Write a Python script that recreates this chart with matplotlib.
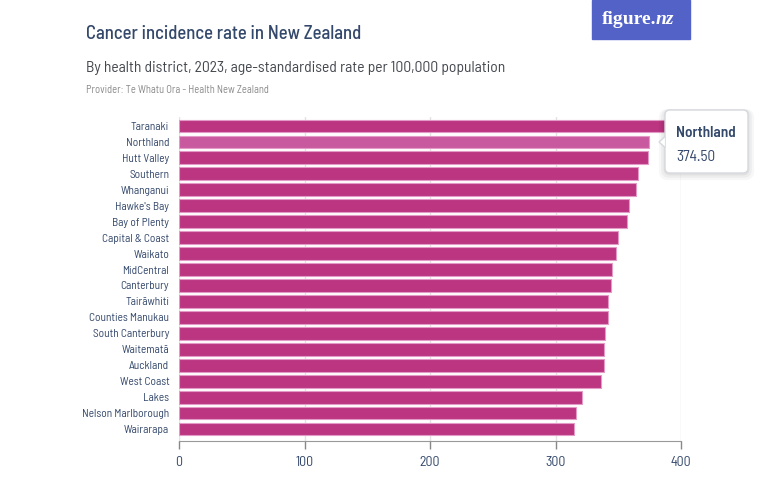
import matplotlib
matplotlib.use('Agg')
import matplotlib.pyplot as plt
from matplotlib.patches import FancyBboxPatch, Rectangle, Polygon

districts = ['Taranaki', 'Northland', 'Hutt Valley', 'Southern', 'Whanganui',
             "Hawke's Bay", 'Bay of Plenty', 'Capital & Coast', 'Waikato', 'MidCentral',
             'Canterbury', 'Tairāwhiti', 'Counties Manukau', 'South Canterbury', 'Waitematā',
             'Auckland', 'West Coast', 'Lakes', 'Nelson Marlborough', 'Wairarapa']
rates = [395.0, 374.5, 373.8, 365.5, 363.9, 358.8, 357.0, 350.0, 347.9, 344.7,
         343.9, 341.7, 341.8, 339.1, 339.0, 338.7, 335.9, 321.4, 316.1, 314.5]
highlight = 'Northland'
xticks = [0, 100, 200, 300, 400]

W, H = 781, 486
NAVY = '#34486b'
BAR = '#bb3581'
BAR_HI = '#c9599f'
EDGE = '#e39ac6'
FONT = ['Barlow Semi Condensed', 'Roboto', 'DejaVu Sans']

plt.rcParams['font.family'] = FONT

fig = plt.figure(figsize=(W / 100, H / 100), dpi=100)

# main axes, placed in pixels
left, right, top, bottom = 179, 681, 117, 441
ax = fig.add_axes([left / W, 1 - bottom / H, (right - left) / W, (bottom - top) / H])

ypos = list(range(len(districts)))
colors = [BAR_HI if d == highlight else BAR for d in districts]
ax.barh(ypos, rates, height=0.8, color=colors, edgecolor=EDGE, linewidth=0.8, zorder=3)

ax.set_xlim(0, 400)
ax.set_ylim(19.75, -0.56)
ax.set_yticks(ypos)
ax.set_yticklabels(districts, fontsize=8.2, color=NAVY)
ax.set_xticks(xticks)
ax.set_xticklabels([str(t) for t in xticks], fontsize=10, color=NAVY)
ax.tick_params(axis='y', length=0, pad=7)
ax.tick_params(axis='x', length=6, color='#888888', width=1, pad=5)
ax.xaxis.grid(True, color='#e3e3e3', linewidth=1, zorder=0)
for s in ['top', 'right', 'left']:
    ax.spines[s].set_visible(False)
ax.spines['bottom'].set_color('#999999')
ax.spines['bottom'].set_zorder(4)

# overlay in pixel coordinates for titles, logo and tooltip
ov = fig.add_axes([0, 0, 1, 1], zorder=10)
ov.set_xlim(0, W)
ov.set_ylim(H, 0)
ov.axis('off')
ov.patch.set_alpha(0)

ov.text(86, 34, 'Cancer incidence rate in New Zealand', fontsize=13.5, fontweight='medium',
        color=NAVY, va='center', ha='left')
ov.text(86, 68, 'By health district, 2023, age-standardised rate per 100,000 population',
        fontsize=11.2, color='#45494f', va='center', ha='left')
ov.text(86, 90, 'Provider: Te Whatu Ora - Health New Zealand', fontsize=7.6,
        color='#8a8a8a', va='center', ha='left')

# figure.nz logo
ov.add_patch(Rectangle((592, 0), 98, 39, color='#5262c7'))
ov.text(656, 19, 'figure.', fontsize=14, fontweight='bold', family='Liberation Serif',
        color='white', va='center', ha='right')
ov.text(656, 19, 'nz', fontsize=14, fontweight='bold', style='italic', family='Liberation Serif',
        color='white', va='center', ha='left')

# tooltip
for i, a in enumerate([0.05, 0.04, 0.03]):
    ov.add_patch(FancyBboxPatch((665 - i, 110 + i + 1), 83 + 2 * i, 63, boxstyle='round,pad=0,rounding_size=5',
                                facecolor='none', edgecolor=(0, 0, 0, a), linewidth=2 + 2 * i))
ov.add_patch(FancyBboxPatch((665, 110), 83, 63, boxstyle='round,pad=0,rounding_size=5',
                            facecolor='white', edgecolor='#d6d9de', linewidth=1))
ov.add_patch(Polygon([[665.6, 136], [659, 142], [665.6, 148]], closed=True,
                     facecolor='white', edgecolor='#d6d9de', linewidth=1))
ov.add_patch(Rectangle((665.8, 135), 2, 14, color='white'))
ov.text(676, 133, highlight, fontsize=11, fontweight='semibold', color=NAVY, va='center', ha='left')
ov.text(676, 157, '%.2f' % rates[districts.index(highlight)], fontsize=11, color=NAVY,
        va='center', ha='left')

fig.savefig('out.png', dpi=100, facecolor='white')
